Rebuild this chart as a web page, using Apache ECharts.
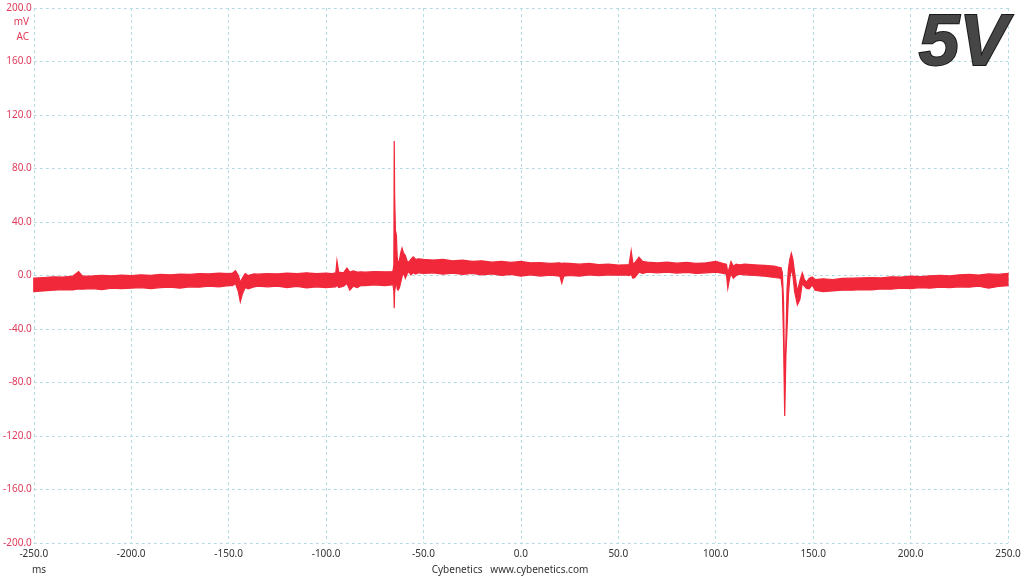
<!DOCTYPE html>
<html>
<head>
<meta charset="utf-8">
<script src="https://cdn.jsdelivr.net/npm/echarts@6/dist/echarts.min.js"></script>
<style>html,body{margin:0;padding:0;background:#fff;}#c{width:1024px;height:576px;}</style>
</head>
<body>
<div id="c"></div>
<script>
// Time (ms) of envelope samples
var T = [
 -250,-245,-240,-235,-230,-227,-225,-220,-215,-210,-205,-200,-195,-190,-185,-180,-175,-170,-165,-160,-155,-150,
 -148,-146.5,-145,-144,-143,-141.5,-140,-137,-135,
 -130,-125,-120,-115,-110,-105,-100,-97,
 -95,-94.4,-93.5,-91,-89.3,-87.8,-86,-84,-82,
 -80,-75,-70,-66,
 -65.6,-65.2,-65.0,-64.8,-64.4,-63.9,-63.5,-63.0,-62.3,-61.5,-61.0,-60.3,-59.3,-58.5,-57.5,-56.5,-55.2,-54,-52.5,
 -50,-45,-40,-35,-30,-25,-20,-15,-10,-5,0,5,10,15,20,21,22,25,30,35,40,45,50,54,
 55.5,56.6,57.5,58.5,60.6,62.5,65,
 70,75,80,85,90,95,100,104,
 105.5,106.2,107,107.8,109,110.5,112,
 115,120,125,130,133,
 133.5,134.2,134.8,135.4,136.0,136.6,137.3,138.0,138.8,139.6,140.5,141.9,143.2,144.4,145.5,146.6,148,149.5,151,
 155,160,165,170,175,180,185,190,195,200,205,210,215,220,225,230,235,240,245,250
];
// Upper edge of the ripple band (mV)
var U = [
 -2.0,-1.5,-1.0,-1.2,-0.5,3.0,-0.5,-0.3,0.2,-0.2,0.3,0.0,0.5,0.2,0.8,0.5,1.0,0.8,1.5,1.2,1.8,1.5,
 1.8,3.6,0,-5,-2,1.5,0,1.2,1.0,
 1.5,1.2,1.8,1.5,2.0,1.4,1.8,1.5,
 2.0,11.0,2.5,2.0,5.6,2.5,3.5,2.5,2.8,
 2.5,3.0,2.8,3.0,
 3.5,8,100.5,60,34,30,14,8,12,18,20.5,17,15,11,10,12,14,12,12.5,
 12.0,11.5,12.0,11.0,11.5,10.5,11.0,10.0,10.5,9.8,10.5,9.5,9.6,9.0,9.5,9.0,9.2,9.0,8.5,9.0,8.2,8.5,7.8,8.0,
 8.0,18.5,9.0,9.5,13.6,10.5,10.0,
 9.5,10.0,9.2,9.8,9.0,9.5,10.5,9.0,
 8.5,2.0,6.0,10.3,7.0,8.5,8.0,
 8.5,8.0,7.5,7.0,6.0,
 6.0,2.0,-20,-80,-50,-10,5,12,16.6,12,2,-12,-4,2.0,-3,-5,-2,-1,-3,
 -2.5,-3.0,-2.2,-2.0,-1.8,-1.5,-1.8,-1.0,-1.2,-0.5,-0.8,-0.2,0.2,-0.3,0.5,0.8,0.3,1.2,0.8,1.6
];
// Lower edge of the ripple band (mV)
var L = [
 -12.0,-11.5,-11.0,-10.5,-10.8,-10.0,-10.2,-9.8,-10.5,-9.5,-9.8,-9.5,-9.0,-9.8,-9.0,-8.8,-9.5,-8.5,-8.8,-8.0,-8.5,-7.5,
 -7.5,-6,-12,-19.6,-14,-9,-10,-8.5,-8.0,
 -8.5,-8.0,-9.0,-8.2,-9.2,-8.5,-9.0,-8.8,
 -8.5,-7.0,-9.0,-8.0,-6.0,-11.0,-8.0,-9.0,-7.5,
 -7.5,-7.0,-7.5,-7.0,
 -7,-12,-24.5,-12,-8,-4,-10,-11,-9,-4,-1,2,-2,1,3,0.5,2,1,2,
 1.5,2.0,1.0,1.8,0.8,1.5,0.5,1.2,0.0,0.8,-0.5,0.5,-0.4,0.2,-0.5,-5.8,-0.5,0.0,-0.5,0.5,-0.2,0.5,0.2,0.4,
 0.0,1.0,-2.0,-1.5,2.5,1.5,2.5,
 2.0,2.5,1.8,2.3,1.5,2.0,2.5,1.5,
 1.0,-9.6,-3.0,1.5,-2.0,0.0,1.0,
 0.5,0.0,-0.5,-1.5,-2.0,
 -2.0,-10,-48,-105,-60,-40,-15,-2,5,0,-12,-22,-18,-6,-8,-9.6,-10,-7,-11,
 -12.0,-11.5,-11.0,-11.0,-10.5,-10.8,-10.0,-10.2,-9.5,-9.8,-9.0,-9.5,-8.8,-9.0,-8.5,-8.8,-8.0,-9.5,-8.2,-7.6
];
var X_MIN = -250, X_MAX = 250, X_STEP = 50;
var Y_MIN = -200, Y_MAX = 200, Y_STEP = 40;

var RED = '#f0283a';
var PINK = '#e03a5a';
var FONT = 'Noto Sans';

var chart = echarts.init(document.getElementById('c'));

function renderBand(params, api) {
  var pts = [];
  for (var i = 0; i < T.length; i++) pts.push(api.coord([T[i], U[i]]));
  for (var j = T.length - 1; j >= 0; j--) pts.push(api.coord([T[j], L[j]]));
  return {
    type: 'polygon',
    shape: { points: pts },
    style: { fill: RED, stroke: RED, lineWidth: 1.2 }
  };
}

var grid = { color: '#b5dbe3', type: [3, 3], width: 1 };

chart.setOption({
  animation: false,
  backgroundColor: '#fff',
  grid: { left: 31, right: 16, top: 8, bottom: 33 },
  xAxis: {
    type: 'value', min: X_MIN, max: X_MAX, interval: X_STEP,
    axisLine: { show: false }, axisTick: { show: false },
    splitLine: { show: true, lineStyle: grid },
    axisLabel: { color: '#333', fontSize: 10, fontFamily: FONT, margin: 6,
      showMinLabel: true, showMaxLabel: true,
      formatter: function (v) { return v.toFixed(1); } }
  },
  yAxis: {
    type: 'value', min: Y_MIN, max: Y_MAX, interval: Y_STEP,
    axisLine: { show: false }, axisTick: { show: false },
    splitLine: { show: true, lineStyle: grid },
    axisLabel: { color: PINK, fontSize: 10, fontFamily: FONT, margin: 2,
      showMinLabel: true, showMaxLabel: true,
      formatter: function (v) { return v.toFixed(1); } }
  },
  series: [{
    type: 'custom', renderItem: renderBand, data: [[0, 0]],
    encode: { x: 0, y: 1 }, clip: true, z: 3, silent: true
  }],
  graphic: [
    { type: 'text', style: { x: 29, y: 22, text: 'mV', align: 'right', verticalAlign: 'middle', fill: PINK, font: '10px "Noto Sans"' } },
    { type: 'text', style: { x: 29, y: 37, text: 'AC', align: 'right', verticalAlign: 'middle', fill: PINK, font: '10px "Noto Sans"' } },
    { type: 'text', style: { x: 32, y: 570, text: 'ms', align: 'left', verticalAlign: 'middle', fill: '#333', font: '10px "Noto Sans"' } },
    { type: 'text', style: { x: 510, y: 570, text: 'Cybenetics   www.cybenetics.com', align: 'center', verticalAlign: 'middle', fill: '#333', font: '10px "Noto Sans"' } },
    { type: 'text', z: 10, style: { x: 1008, y: 8, text: '5V', align: 'right', verticalAlign: 'top',
      font: 'italic bold 73px "Liberation Sans"',
      fill: '#464646',
      stroke: '#1a1a1a', lineWidth: 2,
      shadowColor: 'rgba(0,0,0,0.3)', shadowBlur: 2, shadowOffsetX: 1, shadowOffsetY: 1 } }
  ]
});
</script>
</body>
</html>
